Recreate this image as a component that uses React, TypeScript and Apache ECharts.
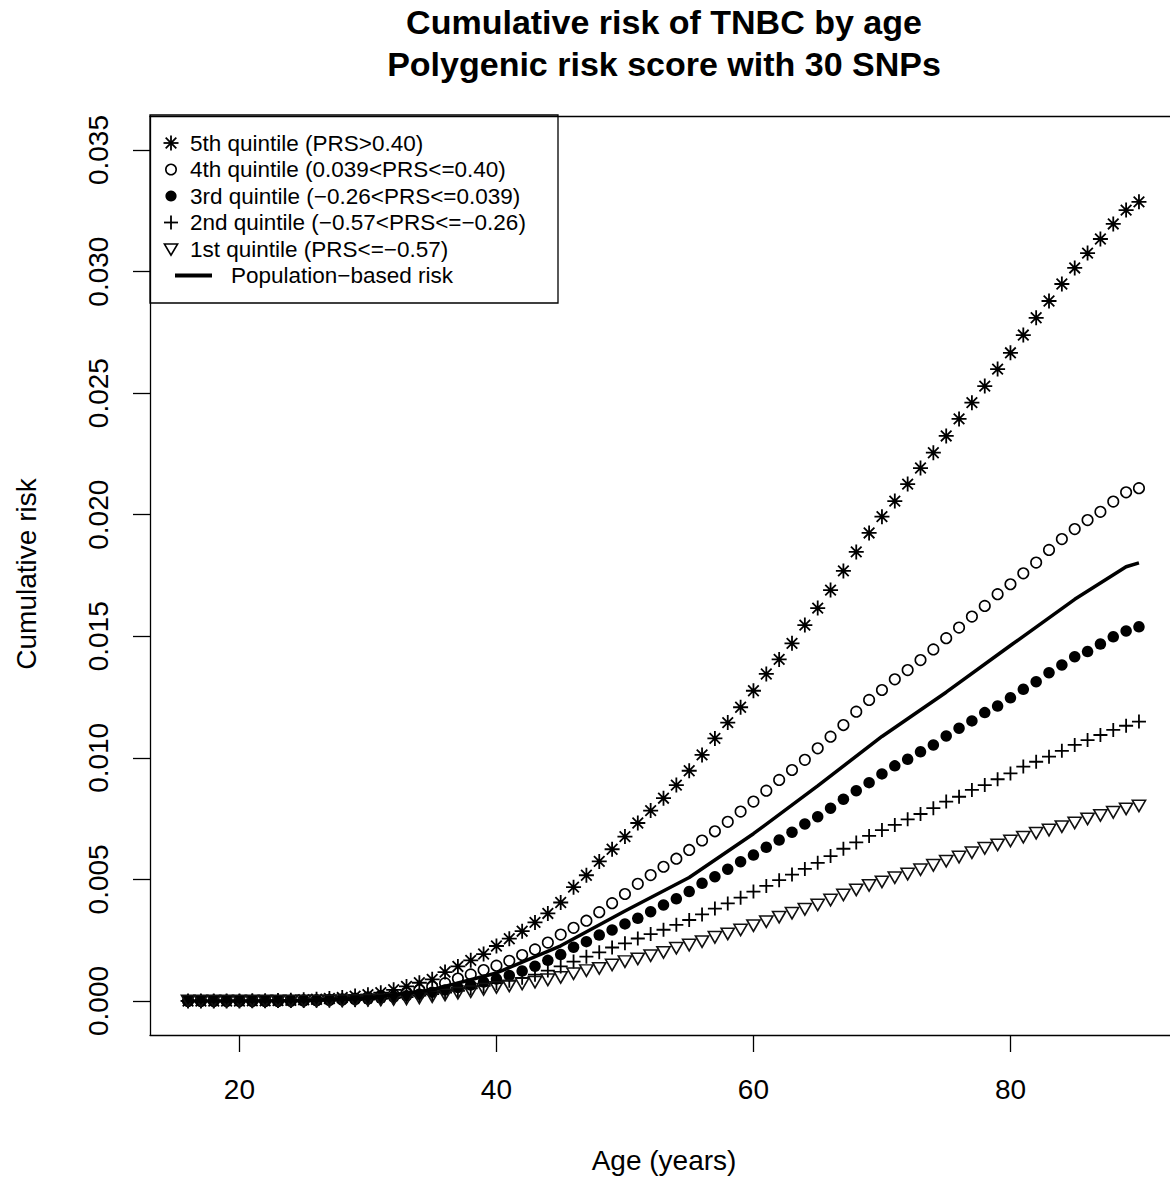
import React, { useEffect, useRef } from "react";
import * as echarts from "echarts";

const ages = [
  16, 17, 18, 19, 20, 21, 22, 23, 24, 25,
  26, 27, 28, 29, 30, 31, 32, 33, 34, 35,
  36, 37, 38, 39, 40, 41, 42, 43, 44, 45,
  46, 47, 48, 49, 50, 51, 52, 53, 54, 55,
  56, 57, 58, 59, 60, 61, 62, 63, 64, 65,
  66, 67, 68, 69, 70, 71, 72, 73, 74, 75,
  76, 77, 78, 79, 80, 81, 82, 83, 84, 85,
  86, 87, 88, 89, 90,
];

// 5th quintile (PRS>0.40)
const q5 = [
  0, 0, 0, 0, 0, 0.00001, 0.00001, 0.00002, 0.00003, 0.00005,
  0.00007, 0.0001, 0.00014, 0.0002, 0.00026, 0.00034, 0.00046, 0.0006, 0.00075, 0.00089,
  0.00119, 0.00142, 0.00167, 0.00193, 0.00226, 0.00256, 0.00287, 0.00323, 0.0036, 0.00405,
  0.00468, 0.00517, 0.00574, 0.00624, 0.00676, 0.00732, 0.00783, 0.00834, 0.00888, 0.00947,
  0.01012, 0.0108, 0.01145, 0.01208, 0.01276, 0.01345, 0.01405, 0.01471, 0.01546, 0.01616,
  0.0169, 0.01769, 0.01847, 0.01925, 0.01992, 0.02056, 0.02126, 0.02192, 0.02255, 0.02324,
  0.02394, 0.02461, 0.02529, 0.02599, 0.02666, 0.02739, 0.0281, 0.02879, 0.02949, 0.03015,
  0.03076, 0.03134, 0.03196, 0.03253, 0.03287,
];

// 4th quintile (0.039<PRS<=0.40)
const q4 = [
  0, 0, 0, 0, 0, 0, 0, 0, 0.00001, 0.00002,
  0.00003, 0.00005, 0.00007, 0.0001, 0.00015, 0.0002, 0.00026, 0.00035, 0.00045, 0.00058,
  0.00073, 0.00092, 0.00109, 0.00127, 0.00145, 0.00165, 0.00189, 0.00212, 0.0024, 0.00273,
  0.00301, 0.0033, 0.00365, 0.00402, 0.0044, 0.00482, 0.00518, 0.00552, 0.00585, 0.00621,
  0.0066, 0.00698, 0.00737, 0.00779, 0.0082, 0.00865, 0.00909, 0.0095, 0.00992, 0.01039,
  0.01087, 0.01135, 0.0119, 0.01238, 0.01279, 0.01323, 0.01361, 0.01402, 0.01446, 0.01492,
  0.01536, 0.01581, 0.01625, 0.01673, 0.01714, 0.01759, 0.01803, 0.01855, 0.019, 0.01941,
  0.01978, 0.02012, 0.02054, 0.02092, 0.02109,
];

// 3rd quintile (-0.26<PRS<=0.039)
const q3 = [
  0, 0, 0, 0, 0, 0, 0, 0, 0, 0.00001,
  0.00002, 0.00003, 0.00004, 0.00006, 0.00008, 0.00012, 0.00016, 0.00021, 0.00028, 0.00036,
  0.00045, 0.00055, 0.00066, 0.00078, 0.0009, 0.00105, 0.00123, 0.00143, 0.00167, 0.00191,
  0.00221, 0.00244, 0.00271, 0.00292, 0.00317, 0.0034, 0.00367, 0.00395, 0.0042, 0.0045,
  0.00484, 0.00511, 0.00542, 0.00573, 0.006, 0.00632, 0.00662, 0.00694, 0.00728, 0.00758,
  0.00793, 0.0083, 0.00865, 0.00898, 0.00934, 0.00967, 0.00994, 0.01025, 0.01053, 0.0109,
  0.01122, 0.01152, 0.01186, 0.01213, 0.01247, 0.01282, 0.01313, 0.0135, 0.01382, 0.01416,
  0.01437, 0.01468, 0.01498, 0.01522, 0.01539,
];

// 2nd quintile (-0.57<PRS<=-0.26)
const q2 = [
  0, 0, 0, 0, 0, 0, 0, 0, 0, 0,
  0.00001, 0.00002, 0.00003, 0.00004, 0.00006, 0.00009, 0.00012, 0.00016, 0.00022, 0.00028,
  0.00034, 0.00042, 0.00052, 0.00062, 0.00073, 0.00083, 0.00095, 0.00108, 0.00125, 0.00142,
  0.00162, 0.00182, 0.002, 0.0022, 0.00237, 0.00257, 0.00275, 0.00293, 0.00313, 0.00333,
  0.00356, 0.0038, 0.00401, 0.00425, 0.0045, 0.00473, 0.00497, 0.0052, 0.00543, 0.00568,
  0.00596, 0.00626, 0.00652, 0.00679, 0.00703, 0.00724, 0.00747, 0.00769, 0.00793, 0.0082,
  0.0084, 0.00868, 0.00888, 0.00912, 0.00936, 0.00964, 0.00984, 0.01005, 0.01029, 0.01053,
  0.01073, 0.01094, 0.01115, 0.01132, 0.01149,
];

// 1st quintile (PRS<=-0.57)
const q1 = [
  0, 0, 0, 0, 0, 0, 0, 0, 0, 0,
  0, 0, 0.00001, 0.00002, 0.00003, 0.00004, 0.00006, 0.00009, 0.00013, 0.00018,
  0.00025, 0.00032, 0.00038, 0.00048, 0.00056, 0.00062, 0.0007, 0.00077, 0.00087, 0.00097,
  0.00112, 0.00125, 0.00134, 0.00148, 0.00162, 0.00173, 0.00186, 0.002, 0.00217, 0.0023,
  0.00244, 0.00262, 0.00276, 0.00292, 0.0031, 0.00326, 0.00345, 0.00361, 0.00377, 0.00395,
  0.00415, 0.00436, 0.00457, 0.00475, 0.0049, 0.00507, 0.00522, 0.0054, 0.00558, 0.00575,
  0.00592, 0.0061, 0.00628, 0.00642, 0.00658, 0.00674, 0.0069, 0.00703, 0.00717, 0.00732,
  0.00749, 0.00763, 0.00776, 0.0079, 0.00802,
];

// Population-based risk (read at the line's bends)
const popAges = [16, 20, 25, 30, 35, 40, 45, 50, 55, 60, 65, 70, 75, 80, 85, 89, 90];
const popRisk = [
  0, 0, 0.00001, 0.00011, 0.00046, 0.00115, 0.00227, 0.0037, 0.00508, 0.00688,
  0.00885, 0.01088, 0.0127, 0.01462, 0.01652, 0.01786, 0.01802,
];

const xTicks = [20, 40, 60, 80];
const yTicks = [0, 0.005, 0.01, 0.015, 0.02, 0.025, 0.03, 0.035];

const titleLines = ["Cumulative risk of TNBC by age", "Polygenic risk score with 30 SNPs"];
const legendLabels = [
  "5th quintile (PRS>0.40)",
  "4th quintile (0.039<PRS<=0.40)",
  "3rd quintile (\u22120.26<PRS<=0.039)",
  "2nd quintile (\u22120.57<PRS<=\u22120.26)",
  "1st quintile (PRS<=\u22120.57)",
  "Population\u2212based risk",
];

const FONT = "'Liberation Sans', Arial, Helvetica, sans-serif";
const STAR = "path://M0,-1L0,1M-1,0L1,0M-0.7071,-0.7071L0.7071,0.7071M-0.7071,0.7071L0.7071,-0.7071";
const PLUS = "path://M0,-1L0,1M-1,0L1,0";
const TRI_DOWN = "path://M-1.3468,-0.7776L1.3468,-0.7776L0,1.5551Z";

function pairs(xs: number[], ys: number[]) {
  return xs.map((x, i) => [x, ys[i]]);
}

export default function App() {
  const ref = useRef<HTMLDivElement>(null);

  useEffect(() => {
    const chart = echarts.init(ref.current!, null, { renderer: "svg" });

    const lx = 171;
    const rows = [143, 169.5, 196, 222.5, 249, 275.5];
    const sw = 1.8;
    const legendEls: any[] = [
      {
        type: "rect",
        shape: { x: 150, y: 115, width: 408, height: 188 },
        style: { fill: "#fff", stroke: "#000", lineWidth: 1.3 },
      },
      { type: "line", shape: { x1: lx, y1: rows[0] - 7.5, x2: lx, y2: rows[0] + 7.5 }, style: { stroke: "#000", lineWidth: sw } },
      { type: "line", shape: { x1: lx - 7.5, y1: rows[0], x2: lx + 7.5, y2: rows[0] }, style: { stroke: "#000", lineWidth: sw } },
      { type: "line", shape: { x1: lx - 5.3, y1: rows[0] - 5.3, x2: lx + 5.3, y2: rows[0] + 5.3 }, style: { stroke: "#000", lineWidth: sw } },
      { type: "line", shape: { x1: lx - 5.3, y1: rows[0] + 5.3, x2: lx + 5.3, y2: rows[0] - 5.3 }, style: { stroke: "#000", lineWidth: sw } },
      { type: "circle", shape: { cx: lx, cy: rows[1], r: 5.2 }, style: { fill: "none", stroke: "#000", lineWidth: 1.6 } },
      { type: "circle", shape: { cx: lx, cy: rows[2], r: 5.6 }, style: { fill: "#000" } },
      { type: "line", shape: { x1: lx, y1: rows[3] - 7, x2: lx, y2: rows[3] + 7 }, style: { stroke: "#000", lineWidth: sw } },
      { type: "line", shape: { x1: lx - 7, y1: rows[3], x2: lx + 7, y2: rows[3] }, style: { stroke: "#000", lineWidth: sw } },
      {
        type: "polygon",
        shape: { points: [[lx - 6.6, rows[4] - 5], [lx + 6.6, rows[4] - 5], [lx, rows[4] + 6.2]] },
        style: { fill: "none", stroke: "#000", lineWidth: 1.6 },
      },
      { type: "line", shape: { x1: 175, y1: rows[5], x2: 212, y2: rows[5] }, style: { stroke: "#000", lineWidth: 4 } },
    ];
    legendLabels.forEach((t, i) => {
      legendEls.push({
        type: "text",
        x: i === 5 ? 231 : 190,
        y: rows[i],
        style: {
          text: t,
          font: `22.5px ${FONT}`,
          fill: "#000",
          textAlign: "left",
          textVerticalAlign: "middle",
        },
      });
    });

    const option: any = {
      animation: false,
      backgroundColor: "#fff",
      textStyle: { fontFamily: FONT },
      grid: {
        left: 150,
        top: 116,
        width: 1027,
        height: 919,
        show: false,
        containLabel: false,
        outerBoundsMode: "none",
      },
      xAxis: [
        {
          type: "value",
          position: "bottom",
          min: 13.04,
          max: 92.96,
          splitLine: { show: false },
          axisLine: { show: true, onZero: false, lineStyle: { color: "#000", width: 1.3 } },
          axisTick: { show: true, inside: false, length: 17, customValues: xTicks, lineStyle: { color: "#000", width: 1.3 } },
          axisLabel: {
            customValues: xTicks,
            formatter: (v: number) => String(v),
            fontSize: 28,
            color: "#000",
            margin: 40,
            fontFamily: FONT,
          },
        },
        {
          // top edge of the plot frame
          type: "value",
          position: "top",
          min: 13.04,
          max: 92.96,
          splitLine: { show: false },
          axisLine: { show: true, onZero: false, lineStyle: { color: "#000", width: 1.3 } },
          axisTick: { show: false },
          axisLabel: { show: false },
        },
      ],
      yAxis: {
        type: "value",
        position: "left",
        min: -0.0014,
        max: 0.0364,
        splitLine: { show: false },
        axisLine: { show: true, onZero: false, lineStyle: { color: "#000", width: 1.3 } },
        axisTick: { show: true, inside: false, length: 17, customValues: yTicks, lineStyle: { color: "#000", width: 1.3 } },
        axisLabel: {
          customValues: yTicks,
          formatter: (v: number) => v.toFixed(3),
          rotate: 90,
          fontSize: 28,
          color: "#000",
          margin: 38,
          fontFamily: FONT,
        },
      },
      series: [
        {
          type: "scatter",
          name: legendLabels[0],
          data: pairs(ages, q5),
          symbol: STAR,
          symbolSize: 15,
          itemStyle: { color: "rgba(0,0,0,0)", borderColor: "#000", borderWidth: 1.8, opacity: 1 },
          z: 3,
        },
        {
          type: "scatter",
          name: legendLabels[1],
          data: pairs(ages, q4),
          symbol: "circle",
          symbolSize: 10.5,
          itemStyle: { color: "rgba(0,0,0,0)", borderColor: "#000", borderWidth: 1.6, opacity: 1 },
          z: 3,
        },
        {
          type: "scatter",
          name: legendLabels[2],
          data: pairs(ages, q3),
          symbol: "circle",
          symbolSize: 11.5,
          itemStyle: { color: "#000", opacity: 1 },
          z: 3,
        },
        {
          type: "scatter",
          name: legendLabels[3],
          data: pairs(ages, q2),
          symbol: PLUS,
          symbolSize: 14,
          itemStyle: { color: "rgba(0,0,0,0)", borderColor: "#000", borderWidth: 1.8, opacity: 1 },
          z: 3,
        },
        {
          type: "scatter",
          name: legendLabels[4],
          data: pairs(ages, q1),
          symbol: TRI_DOWN,
          symbolSize: [13.2, 11.4],
          itemStyle: { color: "rgba(0,0,0,0)", borderColor: "#111", borderWidth: 1.6, opacity: 1 },
          z: 3,
        },
        {
          type: "line",
          name: legendLabels[5],
          data: pairs(popAges, popRisk),
          showSymbol: false,
          symbol: "none",
          lineStyle: { color: "#000", width: 3.5 },
          z: 4,
        },
      ],
      graphic: [
        {
          type: "text",
          x: 664,
          y: 22,
          style: { text: titleLines[0], font: `bold 34px ${FONT}`, fill: "#000", textAlign: "center", textVerticalAlign: "middle" },
        },
        {
          type: "text",
          x: 664,
          y: 64,
          style: { text: titleLines[1], font: `bold 34px ${FONT}`, fill: "#000", textAlign: "center", textVerticalAlign: "middle" },
        },
        {
          type: "text",
          x: 664,
          y: 1160,
          style: { text: "Age (years)", font: `28px ${FONT}`, fill: "#000", textAlign: "center", textVerticalAlign: "middle" },
        },
        {
          type: "text",
          x: 26,
          y: 574,
          rotation: Math.PI / 2,
          style: { text: "Cumulative risk", font: `28px ${FONT}`, fill: "#000", textAlign: "center", textVerticalAlign: "middle" },
        },
        { type: "group", z: 10, children: legendEls },
      ],
    };

    chart.setOption(option);
    return () => chart.dispose();
  }, []);

  return (
    <div
      ref={ref}
      style={{ position: "absolute", left: 0, top: 0, width: 1170, height: 1182, background: "#fff" }}
    />
  );
}
